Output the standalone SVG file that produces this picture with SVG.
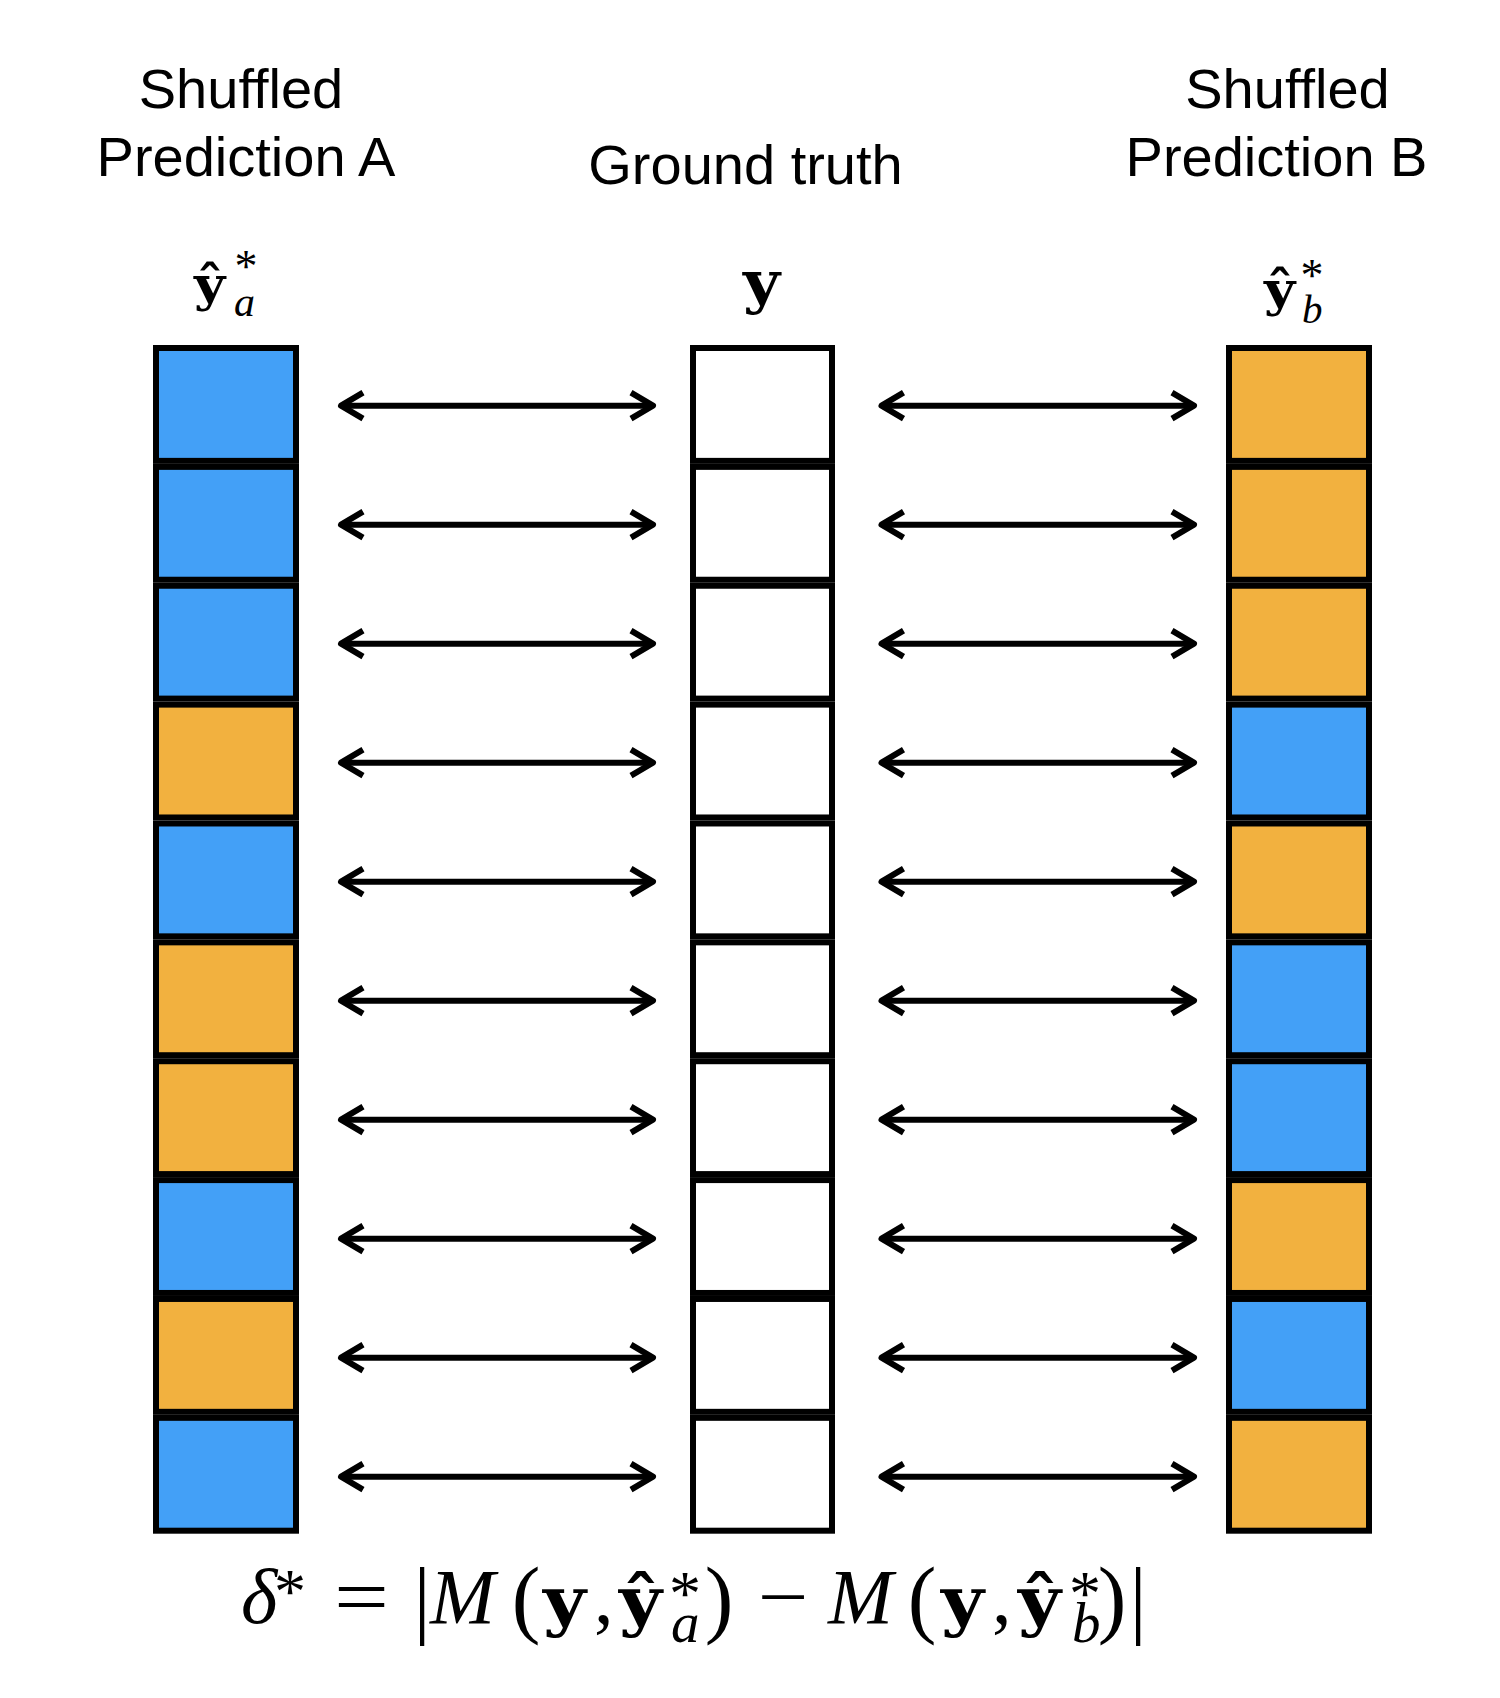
<svg xmlns="http://www.w3.org/2000/svg" width="1500" height="1698" viewBox="0 0 1500 1698">
<style>
.title{font-family:"Liberation Sans",Arial,sans-serif;font-size:56px;fill:#000;text-anchor:middle}
.cell{stroke:#000;stroke-width:6}
.b{fill:#43A0F7}
.o{fill:#F2B13F}
.w{fill:#fff}
.bold{font-family:"DejaVu Serif",serif;font-weight:bold;fill:#000}
.it{font-family:"Liberation Serif",serif;font-style:italic;fill:#000}
.rm{font-family:"Liberation Serif",serif;fill:#000}
.conn{fill:none;stroke:#000;stroke-width:6;marker-start:url(#chev);marker-end:url(#chev)}
</style>
<defs>
<marker id="chev" markerUnits="userSpaceOnUse" markerWidth="40" markerHeight="40" viewBox="-30 -20 40 40" refX="0" refY="0" orient="auto-start-reverse" overflow="visible">
<path d="M -22 -13 L 0 0 L -22 13" fill="none" stroke="#000" stroke-width="6" stroke-linejoin="round"/>
</marker>
</defs>
<rect width="1500" height="1698" fill="#fff"/>

<g id="label-a">
<text class="title" x="241" y="108">Shuffled</text>
<text class="title" x="246" y="176">Prediction A</text>
<text class="bold" font-size="48" transform="translate(194 301) scale(1.12 1)">ŷ</text>
<text class="rm"><tspan x="246" y="282" font-size="46" text-anchor="middle">*</tspan><tspan class="it" x="234" y="316" font-size="42" font-style="italic">a</tspan></text>
</g>
<g id="label-gt">
<text class="title" x="745.5" y="184">Ground truth</text>
<text class="bold" font-size="58" transform="translate(743 302) scale(1.1 1)">y</text>
</g>
<g id="label-b">
<text class="title" x="1287.5" y="108">Shuffled</text>
<text class="title" x="1276.5" y="176">Prediction B</text>
<text class="bold" font-size="48" transform="translate(1264 306) scale(1.12 1)">ŷ</text>
<text class="rm"><tspan x="1312" y="291" font-size="46" text-anchor="middle">*</tspan><tspan x="1302" y="323" font-size="41" font-style="italic">b</tspan></text>
</g>

<g id="column-a">
<rect id="a0" class="cell b" x="156" y="348.00" width="140" height="112.87"/>
<rect id="a1" class="cell b" x="156" y="466.87" width="140" height="112.87"/>
<rect id="a2" class="cell b" x="156" y="585.74" width="140" height="112.87"/>
<rect id="a3" class="cell o" x="156" y="704.61" width="140" height="112.87"/>
<rect id="a4" class="cell b" x="156" y="823.48" width="140" height="112.87"/>
<rect id="a5" class="cell o" x="156" y="942.35" width="140" height="112.87"/>
<rect id="a6" class="cell o" x="156" y="1061.22" width="140" height="112.87"/>
<rect id="a7" class="cell b" x="156" y="1180.09" width="140" height="112.87"/>
<rect id="a8" class="cell o" x="156" y="1298.96" width="140" height="112.87"/>
<rect id="a9" class="cell b" x="156" y="1417.83" width="140" height="112.87"/>
</g>
<g id="column-gt">
<rect id="g0" class="cell w" x="693" y="348.00" width="139" height="112.87"/>
<rect id="g1" class="cell w" x="693" y="466.87" width="139" height="112.87"/>
<rect id="g2" class="cell w" x="693" y="585.74" width="139" height="112.87"/>
<rect id="g3" class="cell w" x="693" y="704.61" width="139" height="112.87"/>
<rect id="g4" class="cell w" x="693" y="823.48" width="139" height="112.87"/>
<rect id="g5" class="cell w" x="693" y="942.35" width="139" height="112.87"/>
<rect id="g6" class="cell w" x="693" y="1061.22" width="139" height="112.87"/>
<rect id="g7" class="cell w" x="693" y="1180.09" width="139" height="112.87"/>
<rect id="g8" class="cell w" x="693" y="1298.96" width="139" height="112.87"/>
<rect id="g9" class="cell w" x="693" y="1417.83" width="139" height="112.87"/>
</g>
<g id="column-b">
<rect id="b0" class="cell o" x="1229" y="348.00" width="140" height="112.87"/>
<rect id="b1" class="cell o" x="1229" y="466.87" width="140" height="112.87"/>
<rect id="b2" class="cell o" x="1229" y="585.74" width="140" height="112.87"/>
<rect id="b3" class="cell b" x="1229" y="704.61" width="140" height="112.87"/>
<rect id="b4" class="cell o" x="1229" y="823.48" width="140" height="112.87"/>
<rect id="b5" class="cell b" x="1229" y="942.35" width="140" height="112.87"/>
<rect id="b6" class="cell b" x="1229" y="1061.22" width="140" height="112.87"/>
<rect id="b7" class="cell o" x="1229" y="1180.09" width="140" height="112.87"/>
<rect id="b8" class="cell b" x="1229" y="1298.96" width="140" height="112.87"/>
<rect id="b9" class="cell o" x="1229" y="1417.83" width="140" height="112.87"/>
</g>

<g id="connectors">
<path class="conn" d="M341 405.7H653"/>
<path class="conn" d="M341 524.7H653"/>
<path class="conn" d="M341 643.7H653"/>
<path class="conn" d="M341 762.7H653"/>
<path class="conn" d="M341 881.7H653"/>
<path class="conn" d="M341 1000.7H653"/>
<path class="conn" d="M341 1119.7H653"/>
<path class="conn" d="M341 1238.7H653"/>
<path class="conn" d="M341 1357.7H653"/>
<path class="conn" d="M341 1476.7H653"/>
<path class="conn" d="M881.5 405.7H1194"/>
<path class="conn" d="M881.5 524.7H1194"/>
<path class="conn" d="M881.5 643.7H1194"/>
<path class="conn" d="M881.5 762.7H1194"/>
<path class="conn" d="M881.5 881.7H1194"/>
<path class="conn" d="M881.5 1000.7H1194"/>
<path class="conn" d="M881.5 1119.7H1194"/>
<path class="conn" d="M881.5 1238.7H1194"/>
<path class="conn" d="M881.5 1357.7H1194"/>
<path class="conn" d="M881.5 1476.7H1194"/>
</g>

<g id="formula">
<text class="it" x="241" y="1623" font-size="78">δ</text>
<text class="rm" x="290" y="1613" font-size="64" text-anchor="middle">*</text>
<text class="rm" x="0" y="1623" font-size="78" text-anchor="middle" transform="translate(361.5 0) scale(1.25 1)">=</text>
<text class="rm" x="422" y="1627" font-size="86" text-anchor="middle">|</text>
<text class="it" x="430" y="1623" font-size="78">M</text>
<text class="rm" x="526" y="1627" font-size="86" text-anchor="middle">(</text>
<text class="bold" font-size="66" transform="translate(543 1623) scale(1.12 1)">y</text>
<text class="rm" x="594" y="1623" font-size="78">,</text>
<text class="bold" font-size="66" transform="translate(619 1623) scale(1.12 1)">ŷ</text>
<text class="rm"><tspan x="685" y="1615" font-size="64" text-anchor="middle">*</tspan><tspan x="671" y="1642" font-size="57" font-style="italic">a</tspan></text>
<text class="rm" x="719" y="1627" font-size="86" text-anchor="middle">)</text>
<text class="rm" x="0" y="1623" font-size="78" text-anchor="middle" transform="translate(783 0) scale(1.15 1)">−</text>
<text class="it" x="828" y="1623" font-size="78">M</text>
<text class="rm" x="922" y="1627" font-size="86" text-anchor="middle">(</text>
<text class="bold" font-size="66" transform="translate(941 1623) scale(1.12 1)">y</text>
<text class="rm" x="992" y="1623" font-size="78">,</text>
<text class="bold" font-size="66" transform="translate(1018 1623) scale(1.12 1)">ŷ</text>
<text class="rm"><tspan x="1085" y="1615" font-size="64" text-anchor="middle">*</tspan><tspan x="1072" y="1642" font-size="57" font-style="italic">b</tspan></text>
<text class="rm" x="1112" y="1627" font-size="86" text-anchor="middle">)</text>
<text class="rm" x="1138" y="1627" font-size="86" text-anchor="middle">|</text>
</g>
</svg>
